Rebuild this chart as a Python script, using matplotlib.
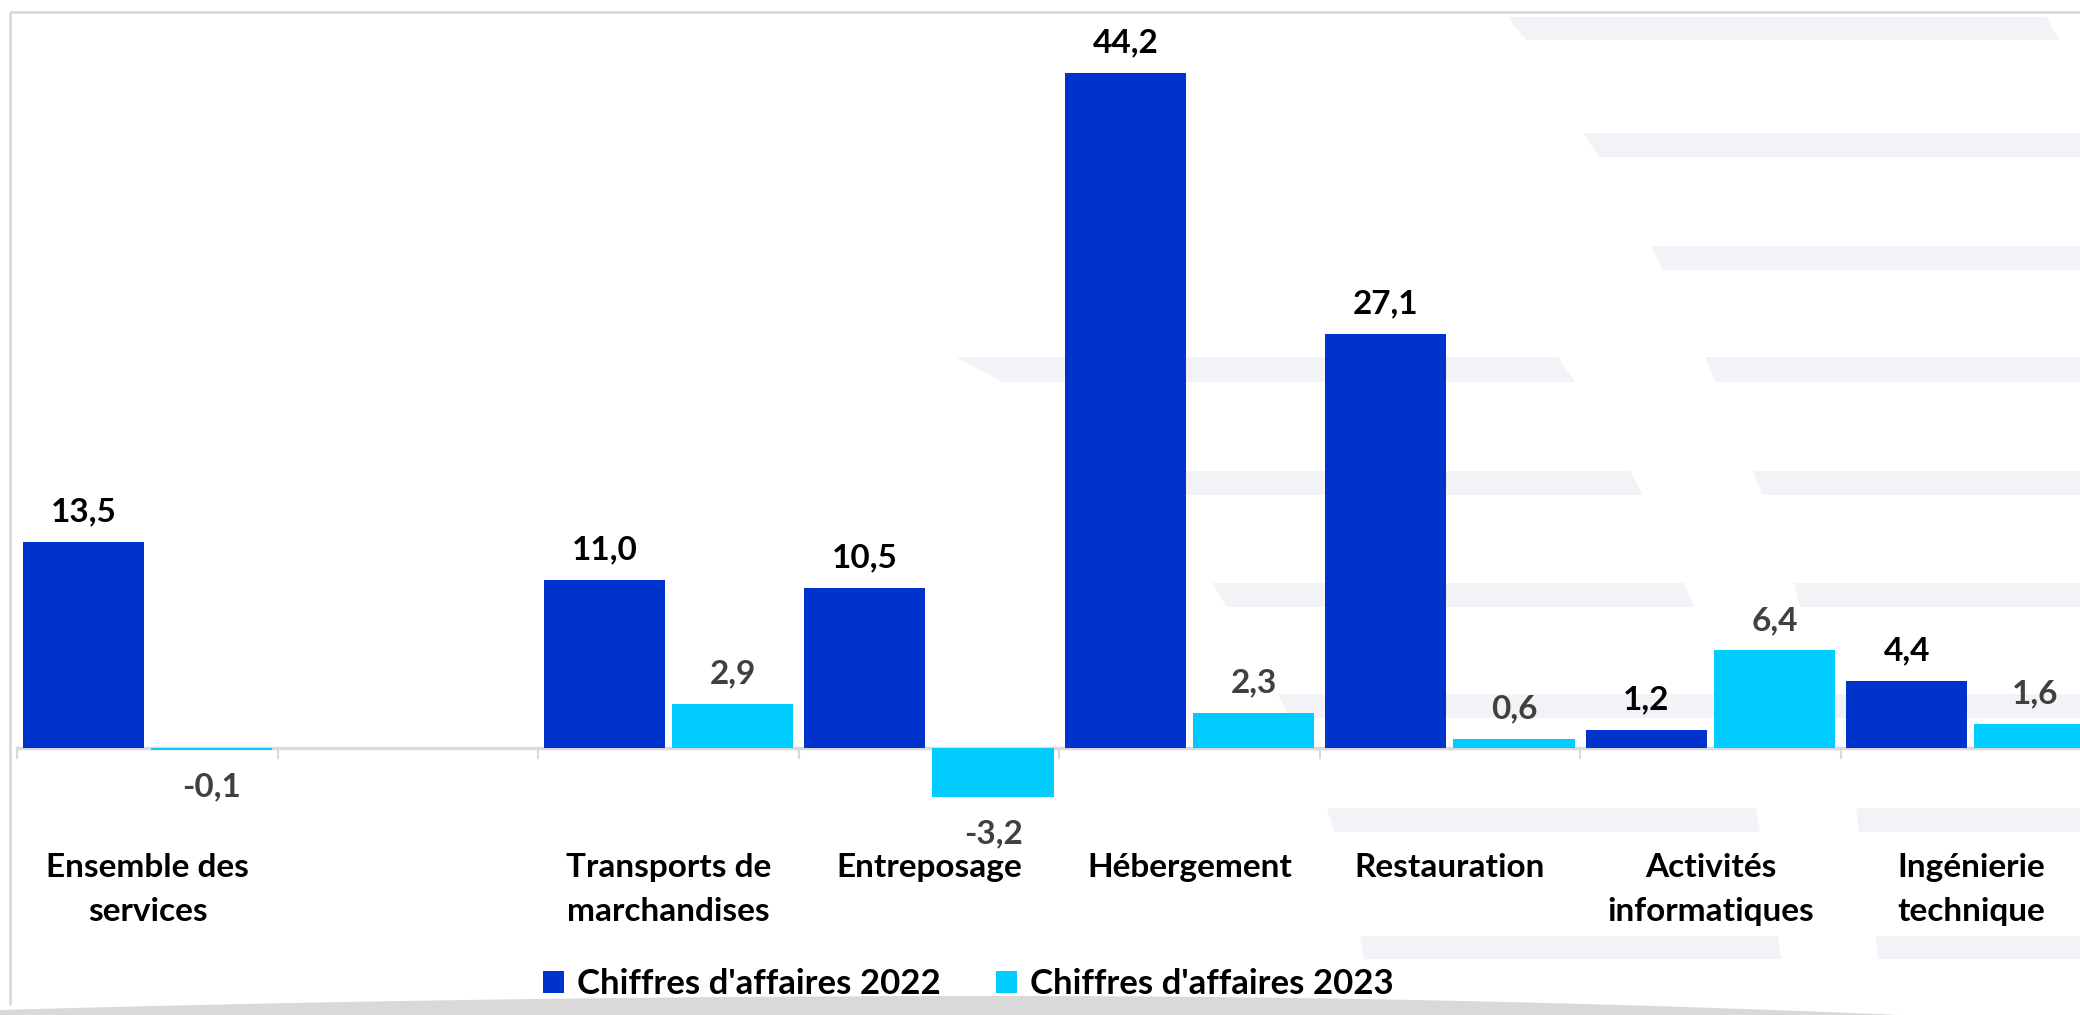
import numpy as np
import matplotlib
matplotlib.use("Agg")
import matplotlib.pyplot as plt
from matplotlib.patches import Polygon, Patch

plt.rcParams['font.family'] = ['Lato', 'DejaVu Sans']

# ---- data ----
categories = ["Ensemble des\nservices", "", "Transports de\nmarchandises", "Entreposage",
              "Hébergement", "Restauration", "Activités\ninformatiques", "Ingénierie\ntechnique"]
ca_2022 = [13.5, np.nan, 11.0, 10.5, 44.2, 27.1, 1.2, 4.4]
ca_2023 = [-0.1, np.nan, 2.9, -3.2, 2.3, 0.6, 6.4, 1.6]
series_names = ["Chiffres d'affaires 2022", "Chiffres d'affaires 2023"]

C_BLUE = "#0033CC"
C_CYAN = "#00CCFF"
GRID = "#D9D9D9"
STRIPE = "#F2F3F7"

W, H = 2080, 1015
fig = plt.figure(figsize=(W / 100, H / 100), dpi=100)

# ---- decorative background (figure pixel space) ----
bg = fig.add_axes([0, 0, 1, 1], zorder=0)
bg.set_xlim(0, W)
bg.set_ylim(H, 0)
bg.axis("off")

# stripes: (y_top, y_bot, [(tl, bl, tr, br), ...])
stripes = [
    (17, 40, [(1508, 1526, 2046, 2060)]),
    (133, 157, [(1584, 1599, 2100, 2100)]),
    (246, 270, [(1651, 1663, 2100, 2100)]),
    (357, 382, [(956, 1002, 1558, 1575), (1705, 1715, 2100, 2100)]),
    (471, 495, [(1118, 1135, 1630, 1643), (1753, 1762, 2100, 2100)]),
    (583, 607, [(1212, 1227, 1684, 1694), (1794, 1800, 2100, 2100)]),
    (694, 718, [(1278, 1290, 1724, 1730), (1825, 1830, 2100, 2100)]),
    (808, 832, [(1327, 1334, 1756, 1760), (1856, 1859, 2100, 2100)]),
    (936, 959, [(1360, 1364, 1778, 1781), (1876, 1878, 2100, 2100)]),
]
for yt, yb, segs in stripes:
    for tl, bl, tr, br in segs:
        bg.add_patch(Polygon([(tl, yt), (tr, yt), (br, yb), (bl, yb)],
                             closed=True, facecolor=STRIPE, edgecolor="none"))

# frame lines
bg.plot([10, W], [12, 12], color=GRID, lw=2, solid_capstyle="butt")
bg.plot([10, 10], [12, 1005], color=GRID, lw=2, solid_capstyle="butt")

# bottom gray arc
xs = np.linspace(0, 1900, 200)
ys = np.where(xs <= 1000, 996 + 14 * ((1000 - xs) / 1000) ** 2,
              996 + 19 * ((xs - 1000) / 900) ** 2)
poly = list(zip(xs, ys)) + [(1900, H), (0, H)]
bg.add_patch(Polygon(poly, closed=True, facecolor=GRID, edgecolor="none"))

# ---- main axes ----
ax = fig.add_axes([0, 0, 1, 1], zorder=1)
ax.patch.set_alpha(0)
ax.axis("off")
px_per_cat = 260.5
x0 = 17.2
ax.set_xlim(-0.5 - x0 / px_per_cat, -0.5 + (W - x0) / px_per_cat)
px_per_unit = 15.28
zero_row = 748
ax.set_ylim(-(H - zero_row) / px_per_unit, zero_row / px_per_unit)

x = np.arange(len(categories))
bw = 0.465
off = 0.246
b1 = ax.bar(x - off, ca_2022, bw, color=C_BLUE, zorder=3)
b2 = ax.bar(x + off, ca_2023, bw, color=C_CYAN, zorder=3)

# zero line and tick marks
ax.plot([-0.5, 8.0], [0, 0], color=GRID, lw=2.5, zorder=2)
tick_len = 10 / px_per_unit
for b in np.arange(-0.5, len(categories) + 0.5, 1.0):
    ax.plot([b, b], [0, -tick_len], color=GRID, lw=1.5, zorder=2)

FS = 24

# value labels
def label(vals, xs, color):
    for xi, v in zip(xs, vals):
        if np.isnan(v):
            continue
        txt = f"{v:.1f}".replace(".", ",")
        dy = 14.5 if v >= 0 else -33.5
        ax.annotate(txt, (xi, v), xytext=(0, dy), textcoords="offset points",
                    ha="center", va="baseline", fontsize=FS, fontweight="bold",
                    color=color, zorder=4)

label(ca_2022, x - off, "#000000")
label(ca_2023, x + off, "#404040")

# category labels
for xi, cat in zip(x, categories):
    if not cat:
        continue
    for k, ln in enumerate(cat.split("\n")):
        row = 877 + 44 * k
        ax.text(xi, (zero_row - row) / px_per_unit, ln, ha="center", va="baseline",
                fontsize=FS, fontweight="bold", color="#000000", zorder=4)

# legend
handles = [Patch(facecolor=C_BLUE, edgecolor="none"), Patch(facecolor=C_CYAN, edgecolor="none")]
fig.legend(handles, series_names, loc="center", bbox_to_anchor=(968 / W, (H - 984) / H),
           ncol=2, frameon=False, prop={"size": 25, "weight": "bold"},
           handlelength=0.62, handleheight=0.62, handletextpad=0.35, columnspacing=1.6)

fig.savefig("out.png", dpi=100)
